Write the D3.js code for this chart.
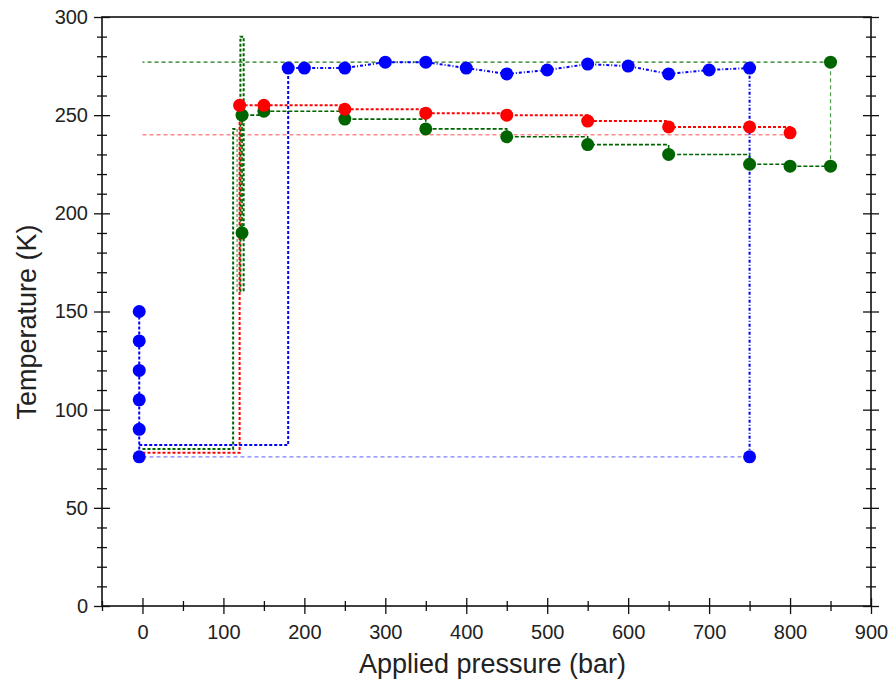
<!DOCTYPE html>
<html>
<head>
<meta charset="utf-8">
<script src="https://cdn.jsdelivr.net/npm/d3@7"></script>
<style>
  body { margin: 0; background: #fff; }
  svg text { font-family: "Liberation Sans", Arial, sans-serif; fill: #222; }
</style>
</head>
<body>
<svg width="890" height="688"></svg>
<script>
// tick labels
var xTicks = [0, 100, 200, 300, 400, 500, 600, 700, 800, 900];
var yTicks = [0, 50, 100, 150, 200, 250, 300];

// blue run: cool-down points at ~0 bar, then the warm run
var blueColdP = [-4, -4, -4, -4, -4, -4];
var blueColdT = [150, 135, 120, 105, 90, 76];
var blueP = [180, 200, 250, 300, 350, 400, 450, 500, 550, 600, 650, 700, 750, 750];
var blueT = [274, 274, 274, 277, 277, 274, 271, 273, 276, 275, 271, 273, 274, 76];
var blueStepP = [-4, 180, 180];
var blueStepT = [82, 82, 274];

// red run
var redP = [120, 150, 250, 350, 450, 550, 650, 750, 800];
var redT = [255, 255, 253, 251, 250, 247, 244, 244, 241];
var redStepP = [0, 120, 120];
var redStepT = [78, 78, 255];

// green run
var greenP = [123, 123, 150, 250, 350, 450, 550, 650, 750, 800, 850];
var greenT = [190, 250, 252, 248, 243, 239, 235, 230, 225, 224, 224];
var greenTopP = [850];
var greenTopT = [277];
var greenStepP = [0, 112, 112, 115];
var greenStepT = [80, 80, 243, 243];
var greenLoopP = [121, 121, 125, 125];
var greenLoopT = [160, 290, 290, 160];
var greenFaintP = [117, 117];
var greenFaintT = [243, 160];

// thin reference levels
var refBlue = {p: [0, 750], t: [76, 76]};
var refRed = {p: [0, 800], t: [240, 240]};
var refGreen = {p: [850, 0], t: [277, 277]};
var refGreenSide = {p: [850, 850], t: [224, 277]};

var svg = d3.select("svg"),
    pLeft = 102, pRight = 871, pTop = 17, pBottom = 606;

var x = d3.scaleLinear().domain([-50, 900]).range([pLeft, pRight]);
var y = d3.scaleLinear().domain([0, 300]).range([pBottom, pTop]);

function zipPts(ps, ts) {
  return ps.map(function(p, i) { return [p, ts[i]]; });
}

var line = d3.line()
    .x(function(d) { return x(d[0]); })
    .y(function(d) { return y(d[1]); });

var stepLine = d3.line()
    .curve(d3.curveStepAfter)
    .x(function(d) { return x(d[0]); })
    .y(function(d) { return y(d[1]); });

var g = svg.append("g");

function addLine(ps, ts, color, w, dash, gen) {
  g.append("path")
      .attr("d", (gen || line)(zipPts(ps, ts)))
      .attr("fill", "none")
      .attr("stroke", color)
      .attr("stroke-width", w)
      .attr("stroke-dasharray", dash);
}

// reference lines
addLine(refBlue.p, refBlue.t, "#7f7fff", 1.2, "4,3");
addLine(refRed.p, refRed.t, "#ff8a8a", 1.4, "4,3");
addLine(refGreen.p, refGreen.t, "#1a7a1a", 1.2, "4,3");
addLine(refGreenSide.p, refGreenSide.t, "#4f9f4f", 1.2, "4,3");

// step paths
addLine(greenStepP, greenStepT, "#006400", 2, "3,2");
addLine(greenFaintP, greenFaintT, "#8fbf8f", 2, "3,2");
addLine(greenLoopP, greenLoopT, "#006400", 2, "3,2");
addLine(redStepP, redStepT, "#ff0000", 2, "3,2");
addLine(blueStepP, blueStepT, "#0000ff", 2, "3,2");

// series lines
addLine(blueColdP, blueColdT, "#0000ff", 2, "3,2");
addLine(blueP, blueT, "#0000ff", 2, "3,2,1,2");
addLine(redP, redT, "#ff0000", 2, "3,2", stepLine);
addLine(greenP, greenT, "#006400", 1.6, "4,2", stepLine);

// points
function addDots(ps, ts, color) {
  g.selectAll(null)
      .data(zipPts(ps, ts))
      .enter().append("circle")
      .attr("cx", function(d) { return x(d[0]); })
      .attr("cy", function(d) { return y(d[1]); })
      .attr("r", 6.5)
      .attr("fill", color);
}
addDots(greenP, greenT, "#006400");
addDots(greenTopP, greenTopT, "#006400");
addDots(redP, redT, "#ff0000");
addDots(blueColdP, blueColdT, "#0000ff");
addDots(blueP, blueT, "#0000ff");

// axes
var xMinor = d3.range(-50, 901, 50).filter(function(v) { return v % 100 !== 0; });
var yMinor = d3.range(0, 301, 10).filter(function(v) { return v % 50 !== 0; });

function crossTicks(sel, attrA, attrB, len) {
  sel.selectAll(".tick line").attr(attrA, -len).attr(attrB, len)
      .attr("stroke", "#111").attr("stroke-width", 1.3);
  sel.select(".domain").remove();
}

var xAx = svg.append("g").attr("transform", "translate(0," + pBottom + ")")
    .call(d3.axisBottom(x).tickValues(xTicks).tickSize(8).tickPadding(11));
crossTicks(xAx, "y1", "y2", 8);
xAx.selectAll("text").attr("font-size", 20);

var xAxMinor = svg.append("g").attr("transform", "translate(0," + pBottom + ")")
    .call(d3.axisBottom(x).tickValues(xMinor).tickSize(5).tickFormat(""));
crossTicks(xAxMinor, "y1", "y2", 5);

var yAx = svg.append("g").attr("transform", "translate(" + pLeft + ",0)")
    .call(d3.axisLeft(y).tickValues(yTicks).tickSize(8).tickPadding(6));
crossTicks(yAx, "x1", "x2", 8);
yAx.selectAll("text").attr("font-size", 20);

var yAxMinor = svg.append("g").attr("transform", "translate(" + pLeft + ",0)")
    .call(d3.axisLeft(y).tickValues(yMinor).tickSize(5).tickFormat(""));
crossTicks(yAxMinor, "x1", "x2", 5);

var yRight = svg.append("g").attr("transform", "translate(" + pRight + ",0)")
    .call(d3.axisRight(y).tickValues(yTicks).tickSize(8).tickFormat(""));
crossTicks(yRight, "x1", "x2", 8);
var yRightMinor = svg.append("g").attr("transform", "translate(" + pRight + ",0)")
    .call(d3.axisRight(y).tickValues(yMinor).tickSize(5).tickFormat(""));
crossTicks(yRightMinor, "x1", "x2", 5);

// frame
svg.append("rect")
    .attr("x", pLeft).attr("y", pTop)
    .attr("width", pRight - pLeft).attr("height", pBottom - pTop)
    .attr("fill", "none").attr("stroke", "#111").attr("stroke-width", 1.6);

// axis titles
svg.append("text")
    .attr("x", (pLeft + pRight) / 2 + 6)
    .attr("y", 673)
    .attr("text-anchor", "middle")
    .attr("font-size", 27)
    .text("Applied pressure (bar)");

svg.append("text")
    .attr("transform", "translate(36," + 322 + ")rotate(-90)")
    .attr("text-anchor", "middle")
    .attr("font-size", 27)
    .text("Temperature (K)");
</script>
</body>
</html>
